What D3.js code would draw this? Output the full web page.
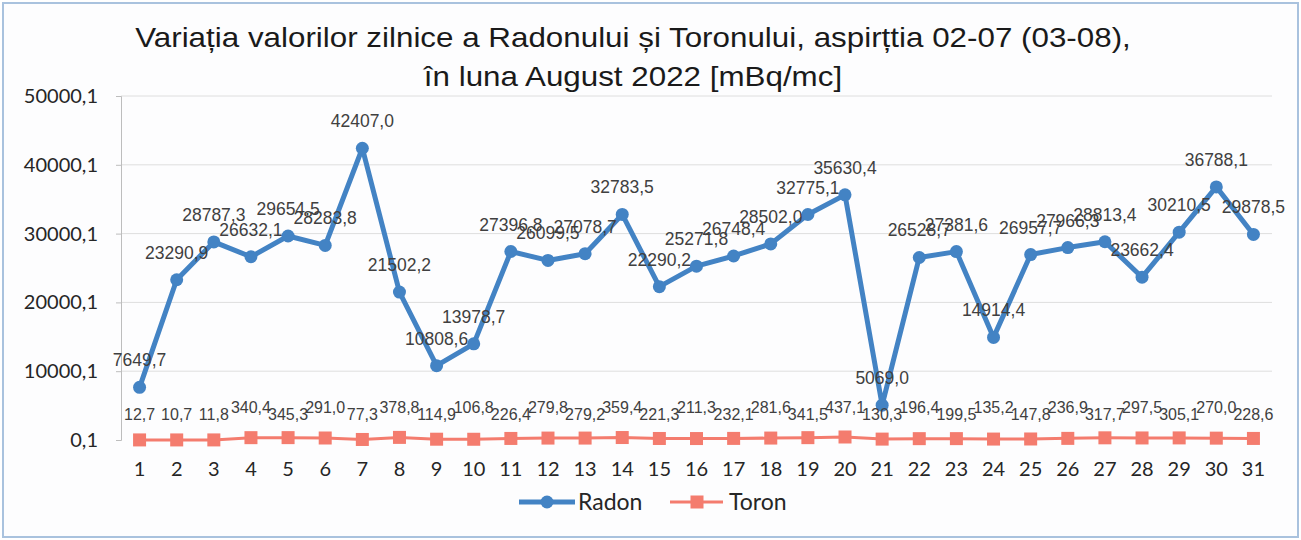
<!DOCTYPE html>
<html>
    <head>
        <meta charset="UTF-8" />
        <script src="https://cdn.jsdelivr.net/npm/d3@7"></script>
        <title>Radon si Toron</title>
        <style>
            body {
                margin: 0;
                background: white;
            }
            #chart text {
                font-family: "Liberation Sans", Arial, sans-serif;
            }
            #chart .lato {
                font-family: Lato, "Open Sans", sans-serif;
            }
        </style>
    </head>
    <body>
        <div id="chart"></div>
        <script>
// zilele lunii august
const days = d3.range(1, 32);
const radon = [7649.7, 23290.9, 28787.3, 26632.1, 29654.5, 28283.8, 42407.0, 21502.2, 10808.6, 13978.7,
    27396.8, 26099.5, 27078.7, 32783.5, 22290.2, 25271.8, 26748.4, 28502.0, 32775.1, 35630.4,
    5069.0, 26528.7, 27381.6, 14914.4, 26957.7, 27966.3, 28813.4, 23662.4, 30210.5, 36788.1, 29878.5];
const toron = [12.7, 10.7, 11.8, 340.4, 345.3, 291.0, 77.3, 378.8, 114.9, 106.8,
    226.4, 279.8, 279.2, 359.4, 221.3, 211.3, 232.1, 281.6, 341.5, 437.1,
    130.3, 196.4, 199.5, 135.2, 147.8, 236.9, 317.7, 297.5, 305.1, 270.0, 228.6];
const yTicks = [0.1, 10000.1, 20000.1, 30000.1, 40000.1, 50000.1];
const titleLines = ["Variația valorilor zilnice a Radonului și Toronului, aspirțtia 02-07 (03-08),",
    "în luna August 2022 [mBq/mc]"];

const w = 1301, h = 540;
const pLeft = 121, pRight = 1272, pTop = 96, pBottom = 440;
const radonColor = "#4383c4", toronColor = "#f47c6e";
const fmt = v => v.toFixed(1).replace(".", ",");

const svg = d3.select("#chart").append("svg")
    .attr("width", w)
    .attr("height", h);

// rama
svg.append("rect")
    .attr("x", 3).attr("y", 3)
    .attr("width", w - 6).attr("height", h - 6)
    .attr("fill", "#fdfdfe")
    .attr("stroke", "#a9c2de")
    .attr("stroke-width", 2);

const xScale = d3.scaleBand()
    .domain(days)
    .range([pLeft, pRight]);
const yScale = d3.scaleLinear()
    .domain([0.1, 50000.1])
    .range([pBottom, pTop]);
const xc = d => xScale(d) + xScale.bandwidth() / 2;

// grid
svg.append("g").selectAll("line").data(yTicks.slice(1)).enter()
    .append("line")
    .attr("x1", pLeft).attr("x2", pRight)
    .attr("y1", d => yScale(d)).attr("y2", d => yScale(d))
    .attr("stroke", "#dedede")
    .attr("stroke-width", 1);

const yAxis = d3.axisLeft(yScale).tickValues(yTicks).tickFormat(fmt).tickSize(5).tickPadding(18);
const yG = svg.append("g")
    .attr("transform", "translate(" + pLeft + ",0)")
    .call(yAxis);
yG.select(".domain").attr("stroke", "#bdbdbd");
yG.selectAll(".tick line").attr("stroke", "#bdbdbd");
yG.selectAll(".tick text")
    .attr("class", "lato")
    .attr("font-size", 20)
    .attr("fill", "#262626");

const xAxis = d3.axisBottom(xScale).tickSize(0).tickPadding(22);
const xG = svg.append("g")
    .attr("transform", "translate(0," + pBottom + ")")
    .call(xAxis);
xG.select(".domain").remove();
xG.selectAll(".tick text")
    .attr("class", "lato")
    .attr("font-size", 20)
    .attr("fill", "#262626");

// toron
const toronLine = d3.line().x((d, i) => xc(days[i])).y(d => yScale(d));
svg.append("path")
    .datum(toron)
    .attr("d", toronLine)
    .attr("fill", "none")
    .attr("stroke", toronColor)
    .attr("stroke-width", 3);
svg.selectAll("rect.toron").data(toron).enter()
    .append("rect")
    .attr("class", "toron")
    .attr("x", (d, i) => xc(days[i]) - 6.5)
    .attr("y", d => yScale(d) - 6.5)
    .attr("width", 13).attr("height", 13)
    .attr("fill", toronColor);

// radon
const radonLine = d3.line().x((d, i) => xc(days[i])).y(d => yScale(d));
svg.append("path")
    .datum(radon)
    .attr("d", radonLine)
    .attr("fill", "none")
    .attr("stroke", radonColor)
    .attr("stroke-width", 5)
    .attr("stroke-linejoin", "round");
svg.selectAll("circle.radon").data(radon).enter()
    .append("circle")
    .attr("class", "radon")
    .attr("cx", (d, i) => xc(days[i]))
    .attr("cy", d => yScale(d))
    .attr("r", 6.5)
    .attr("fill", radonColor);

// etichete
svg.selectAll("text.rlab").data(radon).enter()
    .append("text")
    .attr("class", "rlab")
    .attr("x", (d, i) => xc(days[i]))
    .attr("y", d => yScale(d) - 21)
    .attr("text-anchor", "middle")
    .attr("font-size", 17.5)
    .attr("fill", "#404040")
    .text(fmt);
svg.selectAll("text.tlab").data(toron).enter()
    .append("text")
    .attr("class", "tlab")
    .attr("x", (d, i) => xc(days[i]))
    .attr("y", (d, i) => yScale(0.1) - (i % 2 == 1 && i > 2 ? 27 : 20))
    .attr("text-anchor", "middle")
    .attr("font-size", 16)
    .attr("fill", "#404040")
    .text(fmt);

// titlu (scanarea e putin lățită pe orizontală)
const tg = svg.append("g").attr("transform", "translate(633,0) scale(1.12,1)");
tg.selectAll("text.title").data(titleLines).enter()
    .append("text")
    .attr("class", "title")
    .attr("x", 0)
    .attr("y", (d, i) => 47 + i * 39)
    .attr("text-anchor", "middle")
    .attr("font-size", 28)
    .attr("fill", "#1a1a1a")
    .text(d => d);

// legenda
const lg = svg.append("g").attr("transform", "translate(0,502)");
lg.append("line").attr("x1", 519).attr("x2", 575).attr("stroke", radonColor).attr("stroke-width", 5);
lg.append("circle").attr("cx", 547).attr("r", 6.5).attr("fill", radonColor);
lg.append("text").attr("class", "lato").attr("x", 578).attr("y", 8)
    .attr("font-size", 23).attr("fill", "#262626").text("Radon");
lg.append("line").attr("x1", 670).attr("x2", 723).attr("stroke", toronColor).attr("stroke-width", 3);
lg.append("rect").attr("x", 690.5).attr("y", -6.5).attr("width", 13).attr("height", 13).attr("fill", toronColor);
lg.append("text").attr("class", "lato").attr("x", 729).attr("y", 8)
    .attr("font-size", 23).attr("fill", "#262626").text("Toron");
        </script>
    </body>
</html>
